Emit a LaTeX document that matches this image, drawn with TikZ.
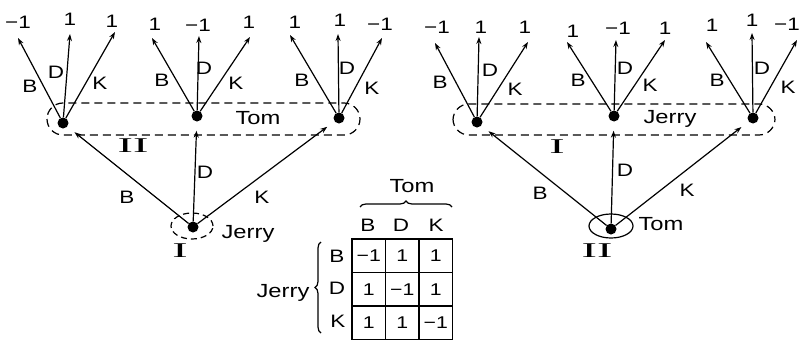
\documentclass[tikz,border=0pt]{standalone}
\usepackage{fontspec}
\setmainfont{Liberation Sans}
\newfontfamily\hand[FakeStretch=1.25]{Liberation Sans}
\newfontfamily\numeral[FakeStretch=2.2]{Liberation Serif}
\usetikzlibrary{arrows.meta,decorations.pathreplacing}

\tikzset{
  dot/.style={circle,fill=black,inner sep=0pt,minimum size=11pt},
  edge/.style={line width=1.2pt},
  arr/.style={edge,-{Stealth[length=7pt,width=5pt]}},
  lbl/.style={font=\hand\fontsize{18}{18}\selectfont,inner sep=0pt},
  word/.style={font=\hand\fontsize{19}{19}\selectfont,inner sep=0pt},
  stage/.style={font=\numeral\fontsize{21}{21}\selectfont,inner sep=0pt},
  infoset/.style={edge,dash pattern=on 8pt off 5pt,rounded corners=16pt},
  cell/.style={draw,line width=1.4pt,minimum width=33.5pt,minimum height=33.5pt,
    inner sep=0pt,font=\hand\fontsize{17}{17}\selectfont},
  brc/.style={edge,decorate,decoration={brace,amplitude=6pt}}
}

\begin{document}
\begin{tikzpicture}[x=1pt,y=-1pt]
\useasboundingbox (0,0) rectangle (801,343);
\clip (0,0) rectangle (801,343);

% ---------- left tree: Jerry moves first ----------
\node[dot] (L0) at (193,227) {};
\node[dot] (La) at (63,123) {};
\node[dot] (Lb) at (197,116) {};
\node[dot] (Lc) at (339,118) {};

\draw[arr,shorten >=9pt] (L0) -- (La);
\draw[arr,shorten >=9pt] (L0) -- (Lb);
\draw[arr,shorten >=9pt] (L0) -- (Lc);
\node[lbl] (L0B) at (127,197) {B};
\node[lbl] (L0D) at (205,172) {D};
\node[lbl] (L0K) at (262,197) {K};

\draw[dash pattern=on 6pt off 4pt,edge] (192,226) ellipse [x radius=21pt,y radius=13pt];
\node[word] (Ljerry) at (248,234) {Jerry};
\node[stage] (Lone) at (180,251) {I};

\draw[infoset] (47,103) rectangle (360,135);
\node[word] (Ltom) at (258,118) {Tom};
\node[stage] (Ltwo) at (133,146) {II};

% fan at La
\coordinate (LaB) at (18,38);
\coordinate (LaD) at (70,34);
\coordinate (LaK) at (115,32);
\draw[arr] (La) -- (LaB);
\draw[arr] (La) -- (LaD);
\draw[arr] (La) -- (LaK);
\node[lbl] (LaBl) at (30,86) {B};
\node[lbl] (LaDl) at (56,72) {D};
\node[lbl] (LaKl) at (100,83) {K};
\node[lbl] (LaBp) at (18,22) {−1};
\node[lbl] (LaDp) at (70,19) {1};
\node[lbl] (LaKp) at (112,21) {1};

% fan at Lb
\coordinate (LbB) at (152,38);
\coordinate (LbD) at (199,36);
\coordinate (LbK) at (250,37);
\draw[arr] (Lb) -- (LbB);
\draw[arr] (Lb) -- (LbD);
\draw[arr] (Lb) -- (LbK);
\node[lbl] (LbBl) at (162,80) {B};
\node[lbl] (LbDl) at (204,68) {D};
\node[lbl] (LbKl) at (236,83) {K};
\node[lbl] (LbBp) at (155,24) {1};
\node[lbl] (LbDp) at (198,25) {−1};
\node[lbl] (LbKp) at (249,22) {1};

% fan at Lc
\coordinate (LcB) at (290,35);
\coordinate (LcD) at (338,34);
\coordinate (LcK) at (382,38);
\draw[arr] (Lc) -- (LcB);
\draw[arr] (Lc) -- (LcD);
\draw[arr] (Lc) -- (LcK);
\node[lbl] (LcBl) at (302,80) {B};
\node[lbl] (LcDl) at (347,68) {D};
\node[lbl] (LcKl) at (372,88) {K};
\node[lbl] (LcBp) at (295,22) {1};
\node[lbl] (LcDp) at (340,20) {1};
\node[lbl] (LcKp) at (380,24) {−1};

% ---------- right tree: Tom moves first ----------
\node[dot] (R0) at (611,229) {};
\node[dot] (Ra) at (477,122) {};
\node[dot] (Rb) at (614,116) {};
\node[dot] (Rc) at (753,118) {};

\draw[arr,shorten >=9pt] (R0) -- (Ra);
\draw[arr,shorten >=9pt] (R0) -- (Rb);
\draw[arr,shorten >=9pt] (R0) -- (Rc);
\node[lbl] (R0B) at (540,193) {B};
\node[lbl] (R0D) at (625,170) {D};
\node[lbl] (R0K) at (687,190) {K};

\draw[edge] (611,226) ellipse [x radius=22pt,y radius=12pt];
\node[word] (Rtom) at (661,224) {Tom};
\node[stage] (Rtwo) at (597,251) {II};

\draw[infoset] (453,104) rectangle (775,135);
\node[word] (Rjerry) at (670,119) {Jerry};
\node[stage] (Rone) at (557,147) {I};

% fan at Ra
\coordinate (RaB) at (435,43);
\coordinate (RaD) at (479,37);
\coordinate (RaK) at (528,42);
\draw[arr] (Ra) -- (RaB);
\draw[arr] (Ra) -- (RaD);
\draw[arr] (Ra) -- (RaK);
\node[lbl] (RaBl) at (440,82) {B};
\node[lbl] (RaDl) at (490,70) {D};
\node[lbl] (RaKl) at (515,89) {K};
\node[lbl] (RaBp) at (437,27) {−1};
\node[lbl] (RaDp) at (481,27) {1};
\node[lbl] (RaKp) at (525,27) {1};

% fan at Rb
\coordinate (RbB) at (567,42);
\coordinate (RbD) at (616,40);
\coordinate (RbK) at (665,40);
\draw[arr] (Rb) -- (RbB);
\draw[arr] (Rb) -- (RbD);
\draw[arr] (Rb) -- (RbK);
\node[lbl] (RbBl) at (578,80) {B};
\node[lbl] (RbDl) at (625,68) {D};
\node[lbl] (RbKl) at (650,85) {K};
\node[lbl] (RbBp) at (573,31) {1};
\node[lbl] (RbDp) at (618,28) {−1};
\node[lbl] (RbKp) at (665,28) {1};

% fan at Rc
\coordinate (RcB) at (706,42);
\coordinate (RcD) at (752,33);
\coordinate (RcK) at (797,40);
\draw[arr] (Rc) -- (RcB);
\draw[arr] (Rc) -- (RcD);
\draw[arr] (Rc) -- (RcK);
\node[lbl] (RcBl) at (717,80) {B};
\node[lbl] (RcDl) at (762,68) {D};
\node[lbl] (RcKl) at (788,87) {K};
\node[lbl] (RcBp) at (712,25) {1};
\node[lbl] (RcDp) at (752,20) {1};
\node[lbl] (RcKp) at (787,24) {−1};

% ---------- payoff table ----------
\node[cell] (c11) at (368.75,255.75) {−1};
\node[cell] (c12) at (402.25,255.75) {1};
\node[cell] (c13) at (435.75,255.75) {1};
\node[cell] (c21) at (368.75,289.25) {1};
\node[cell] (c22) at (402.25,289.25) {−1};
\node[cell] (c23) at (435.75,289.25) {1};
\node[cell] (c31) at (368.75,322.75) {1};
\node[cell] (c32) at (402.25,322.75) {1};
\node[cell] (c33) at (435.75,322.75) {−1};

\node[lbl] (hB) at (368,225) {B};
\node[lbl] (hD) at (401,225) {D};
\node[lbl] (hK) at (436,225) {K};
\draw[brc] (360,207) -- (452,207);
\node[word] (ttom) at (412,186) {Tom};

\node[lbl] (vB) at (337,256) {B};
\node[lbl] (vD) at (337,288) {D};
\node[lbl] (vK) at (338,321) {K};
\draw[brc] (321,333) -- (321,242);
\node[word] (tjerry) at (283,293) {Jerry};
\end{tikzpicture}
\end{document}
